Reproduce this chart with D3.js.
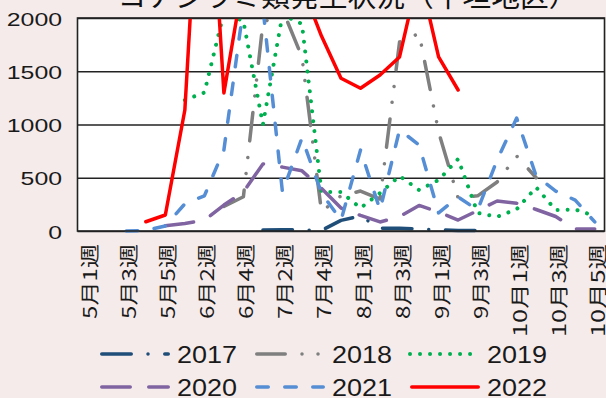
<!DOCTYPE html>
<html><head><meta charset="utf-8">
<script src="https://cdn.jsdelivr.net/npm/d3@7"></script>
<style>
html,body{margin:0;padding:0;background:#f5ebeb;}
svg{display:block;}
</style></head><body>
<svg id="chart" width="606" height="398"></svg>
<script>
const titleText = "コナジラミ類発生状況（平坦地区）";
const categories = ["5月1週","5月2週","5月3週","5月4週","5月5週","6月1週","6月2週","6月3週","6月4週",
  "7月1週","7月2週","7月3週","7月4週","7月5週","8月1週","8月2週","8月3週","8月4週",
  "9月1週","9月2週","9月3週","9月4週","10月1週","10月2週","10月3週","10月4週","10月5週"];
const yTicks = [0, 500, 1000, 1500, 2000];
const N = null;
const s2017 = [N,N,N,N,N,N,N,N,N,10,12,10,5,100,140,25,25,20,10,5,5,N,N,N,N,N,N];
const s2018 = [N,N,N,N,N,N,N,230,322,1950,2080,1634,181,330,375,300,1775,1855,930,310,330,460,704,500,N,N,N];
const s2019 = [N,N,N,N,N,1230,1300,2050,1970,1000,2030,1945,366,366,216,357,516,385,479,676,170,134,204,410,197,202,141];
const s2020 = [N,N,N,N,50,71,100,244,366,630,600,565,400,216,146,85,136,240,178,103,192,282,260,202,136,19,19];
const s2021 = [N,N,0,5,47,255,330,760,2100,2100,366,873,357,100,760,197,950,808,170,320,197,667,1060,516,375,290,85];
const s2022 = [N,N,N,87,150,1136,4300,1296,2370,3200,2800,2300,1830,1434,1340,1465,1634,2430,1634,1324,N,N,N,N,N,N,N];
const seriesNames = ["2017","2018","2019","2020","2021","2022"];
const seriesValues = [s2017, s2018, s2019, s2020, s2021, s2022];
const seriesColors = ["#1f4e79","#7f7f7f","#00b050","#8064a2","#558ed5","#ff0000"];
const seriesDash = ["29.5 16.75 0.01 16.75","28.5 16.75 0.01 16 0.01 16.75","0.01 10","28.5 18.5","11.5 16.5",null];

const W = 606, H = 398;
const P = {left: 77.5, right: 604.5, top: 18, bottom: 231};
const svg = d3.select("#chart");
svg.append("rect").attr("width", W).attr("height", H).attr("fill", "#f5ebeb");

const x = d3.scaleBand().domain(categories).range([P.left, P.right]).paddingInner(0).paddingOuter(0);
const y = d3.scaleLinear().domain([0, 2000]).range([P.bottom, P.top]);

// plot background
svg.append("rect").attr("x", P.left).attr("y", P.top)
  .attr("width", P.right - P.left).attr("height", P.bottom - P.top).attr("fill", "#ffffff");

// y axis with gridlines
const yAxis = svg.append("g").attr("transform", `translate(${P.left},0)`)
  .call(d3.axisLeft(y).tickValues(yTicks).tickSize(-(P.right - P.left)).tickFormat(d3.format("d")));
yAxis.select(".domain").remove();
yAxis.selectAll(".tick line").attr("stroke", "#222").attr("stroke-width", 1.3);
yAxis.selectAll(".tick text")
  .attr("x", -15.5 / 1.38).attr("dy", null).attr("y", 7)
  .attr("transform", "scale(1.38,1)")
  .attr("text-anchor", "end")
  .style("font-family", "'Liberation Sans', Arial, sans-serif")
  .style("font-size", "18px").attr("fill", "#1a1a1a");

// x axis labels (clipped at the bottom like the reference)
svg.append("clipPath").attr("id", "xclip").append("rect")
  .attr("x", 0).attr("y", P.bottom).attr("width", W).attr("height", 104);
const xAxis = svg.append("g").attr("clip-path", "url(#xclip)")
  .append("g").attr("transform", `translate(0,${P.bottom})`)
  .call(d3.axisBottom(x).tickValues(categories.filter((d, i) => i % 2 === 0)).tickSize(0));
xAxis.select(".domain").remove();
xAxis.selectAll(".tick text")
  .attr("transform", "translate(0,13) rotate(-90)")
  .attr("x", 0).attr("y", 0).attr("dy", 10)
  .attr("text-anchor", "end")
  .attr("textLength", d => d.length === 4 ? 75 : 93)
  .attr("lengthAdjust", "spacingAndGlyphs")
  .style("font-family", "'Noto Sans CJK JP', sans-serif")
  .style("font-size", "19px").attr("fill", "#1a1a1a");

// clip for lines
svg.append("clipPath").attr("id", "clip").append("rect")
  .attr("x", P.left - 2).attr("y", P.top).attr("width", P.right - P.left + 4).attr("height", P.bottom - P.top + 10);

const line = d3.line()
  .defined(d => d != null)
  .x((d, i) => x(categories[i]) + x.bandwidth() / 2)
  .y(d => y(d));

const lines = svg.append("g").attr("clip-path", "url(#clip)");
seriesValues.forEach((vals, k) => {
  lines.append("path")
    .datum(vals)
    .attr("d", line)
    .attr("fill", "none")
    .attr("stroke", seriesColors[k])
    .attr("stroke-width", k === 2 ? 4 : 3.5)
    .attr("stroke-linecap", "round")
    .attr("stroke-linejoin", "round")
    .attr("stroke-dasharray", seriesDash[k]);
});

// frame
svg.append("rect").attr("x", P.left).attr("y", P.top)
  .attr("width", P.right - P.left).attr("height", P.bottom - P.top)
  .attr("fill", "none").attr("stroke", "#222").attr("stroke-width", 1.6);

// title (mostly cut off at top, as in the reference)
svg.append("text").attr("x", 347.5).attr("y", 7)
  .attr("text-anchor", "middle")
  .attr("textLength", 460).attr("lengthAdjust", "spacingAndGlyphs")
  .style("font-family", "'Noto Sans CJK JP', sans-serif")
  .style("font-size", "28px").attr("fill", "#111")
  .text(titleText);

// legend
const legCols = [100, 255, 410];
const legRows = [354, 387];
seriesNames.forEach((name, k) => {
  const cx = legCols[k % 3], cy = legRows[Math.floor(k / 3)];
  const g = svg.append("g");
  const x0 = k === 2 ? cx : cx + 1.75;
  const x1 = k === 2 ? cx + 68 : cx + 68.25;
  g.append("line").attr("x1", x0).attr("x2", x1).attr("y1", cy).attr("y2", cy)
    .attr("stroke", seriesColors[k])
    .attr("stroke-width", k === 2 ? 4 : 3.5)
    .attr("stroke-linecap", "round")
    .attr("stroke-dasharray", seriesDash[k]);
  g.append("text").attr("x", cx + 77).attr("y", cy + 9)
    .attr("textLength", 60).attr("lengthAdjust", "spacingAndGlyphs")
    .style("font-family", "'Liberation Sans', Arial, sans-serif")
    .style("font-size", "24px").attr("fill", "#1a1a1a")
    .text(name);
});
</script>
</body></html>
